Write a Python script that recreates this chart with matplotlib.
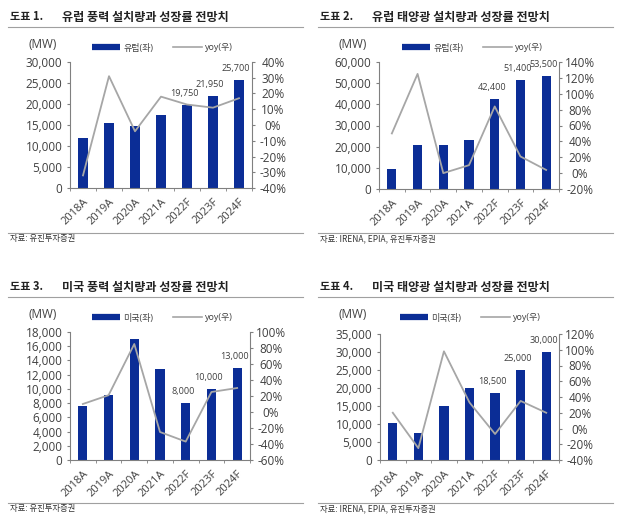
import matplotlib
matplotlib.use("Agg")
import matplotlib.pyplot as plt
from matplotlib.lines import Line2D
import numpy as np

plt.rcParams['font.family'] = ['Open Sans', 'Noto Sans CJK KR', 'DejaVu Sans']
plt.rcParams['axes.unicode_minus'] = False

years = ['2018A', '2019A', '2020A', '2021A', '2022F', '2023F', '2024F']

eu_wind = [11800, 15400, 14700, 17400, 19750, 21950, 25700]
eu_wind_yoy = [-32, 31, -4, 18, 13, 11, 17]

eu_solar = [9500, 21000, 21000, 23200, 42400, 51400, 53500]
eu_solar_yoy = [50, 125, 0, 10, 84, 21, 4]

us_wind = [7600, 9200, 17000, 12800, 8000, 10000, 13000]
us_wind_yoy = [10, 21, 85, -25, -37, 25, 30]

us_solar = [10200, 7600, 15000, 20000, 18500, 25000, 30000]
us_solar_yoy = [20, -25, 98, 33, -7, 35, 20]

BLUE = '#0B2D96'
GRAY = '#A6A6A6'
TXT = '#404040'
KR = ['Noto Sans CJK KR', 'DejaVu Sans']
W, H = 622, 526

fig = plt.figure(figsize=(W / 100, H / 100), dpi=100)


def fx(px):
    return px / W


def fy(py):
    return 1 - py / H


def draw_panel(rect, vals, yoy, ymax, ystep, rmin, rmax, rstep, legend_name,
               labelled, num, title, source, ox, oy, leg_cx):
    l, t, r, b = rect
    ax = fig.add_axes([fx(l), fy(b), fx(r) - fx(l), fy(t) - fy(b)])
    x = np.arange(len(years))
    ax.bar(x, vals, width=0.36, color=BLUE)
    ax.set_xlim(-0.5, len(years) - 0.5)
    ax.set_ylim(0, ymax)
    ax.set_yticks(np.arange(0, ymax + 1, ystep))
    ax.set_yticklabels([f'{v:,}' for v in range(0, ymax + 1, ystep)])
    ax.set_xticks(x)
    ax.set_xticklabels(years, rotation=45, ha='right', rotation_mode='anchor')
    ax.set_xticks(np.arange(-0.5, len(years)), minor=True)
    ax.tick_params(axis='x', which='major', length=0, pad=6, labelsize=8, colors=TXT)
    ax.tick_params(axis='x', which='minor', length=2.5, color='#808080')
    ax.tick_params(axis='y', length=2.5, pad=3, labelsize=8.5, colors=TXT, color='#808080')
    for s in ['top', 'right']:
        ax.spines[s].set_visible(False)
    for s in ['left', 'bottom']:
        ax.spines[s].set_color('#808080')
    # value labels on the forecast bars
    for i in labelled:
        ax.annotate(f'{vals[i]:,}', (x[i], vals[i]), xytext=(-2, 5),
                    textcoords='offset points', ha='center', va='bottom',
                    fontsize=6.6, color=TXT)

    ax2 = ax.twinx()
    ax2.plot(x, yoy, color=GRAY, lw=1.3)
    ax2.set_ylim(rmin, rmax)
    ticks = list(range(rmin, rmax + 1, rstep))
    ax2.set_yticks(ticks)
    ax2.set_yticklabels([f'{v}%' for v in ticks])
    ax2.tick_params(axis='y', length=2.5, pad=12.5, labelsize=8.5, colors=TXT, color='#808080')
    for lbl in ax2.get_yticklabels():
        lbl.set_horizontalalignment('center')
    for s in ['top', 'left', 'bottom']:
        ax2.spines[s].set_visible(False)
    ax2.spines['right'].set_color('#808080')

    handles = [Line2D([0], [0], color=BLUE, lw=4.5, solid_capstyle='butt'),
               Line2D([0], [0], color=GRAY, lw=1.2)]
    fig.legend(handles, [legend_name, 'yoy(우)'], loc='center',
               bbox_to_anchor=(fx(leg_cx), fy(oy + 48)), ncol=2, frameon=False,
               fontsize=6.5, handlelength=3.2, handletextpad=0.3,
               columnspacing=2.2, labelcolor=TXT)

    fig.text(fx(ox + 35), fy(oy + 44), '(MW)', ha='center', va='center',
             fontsize=8.5, color=TXT)
    fig.text(fx(ox + 2), fy(oy + 17), num, ha='left', va='center',
             fontsize=8, fontweight='bold', color='#222222', family=KR)
    fig.text(fx(ox + 54), fy(oy + 17), title, ha='left', va='center',
             fontsize=8.7, fontweight='bold', color='#222222', family=KR)
    fig.add_artist(Line2D([fx(ox), fx(ox + 295)], [fy(oy + 27), fy(oy + 27)],
                          color='#A0A0A0', lw=0.8))
    fig.add_artist(Line2D([fx(ox), fx(ox + 295)], [fy(oy + 233), fy(oy + 233)],
                          color='#A0A0A0', lw=0.8))
    fig.text(fx(ox + 2), fy(oy + 239), source, ha='left', va='center',
             fontsize=6, color='#333333', family=KR)


draw_panel((70, 62, 252, 188), eu_wind, eu_wind_yoy, 30000, 5000, -40, 40, 10,
           '유럽(좌)', [4, 5, 6], '도표 1.', '유럽 풍력 설치량과 성장률 전망치',
           '자료: 유진투자증권', 8, 0, 162)
draw_panel((379, 62, 559, 189), eu_solar, eu_solar_yoy, 60000, 10000, -20, 140, 20,
           '유럽(좌)', [4, 5, 6], '도표 2.', '유럽 태양광 설치량과 성장률 전망치',
           '자료: IRENA, EPIA, 유진투자증권', 318, 0, 472)
draw_panel((70, 332, 250, 460), us_wind, us_wind_yoy, 18000, 2000, -60, 100, 20,
           '미국(좌)', [4, 5, 6], '도표 3.', '미국 풍력 설치량과 성장률 전망치',
           '자료: 유진투자증권', 8, 270, 162)
draw_panel((380, 334, 559, 460), us_solar, us_solar_yoy, 35000, 5000, -40, 120, 20,
           '미국(좌)', [4, 5, 6], '도표 4.', '미국 태양광 설치량과 성장률 전망치',
           '자료: IRENA, EPIA, 유진투자증권', 318, 270, 470)

fig.savefig('out.png', dpi=100)
